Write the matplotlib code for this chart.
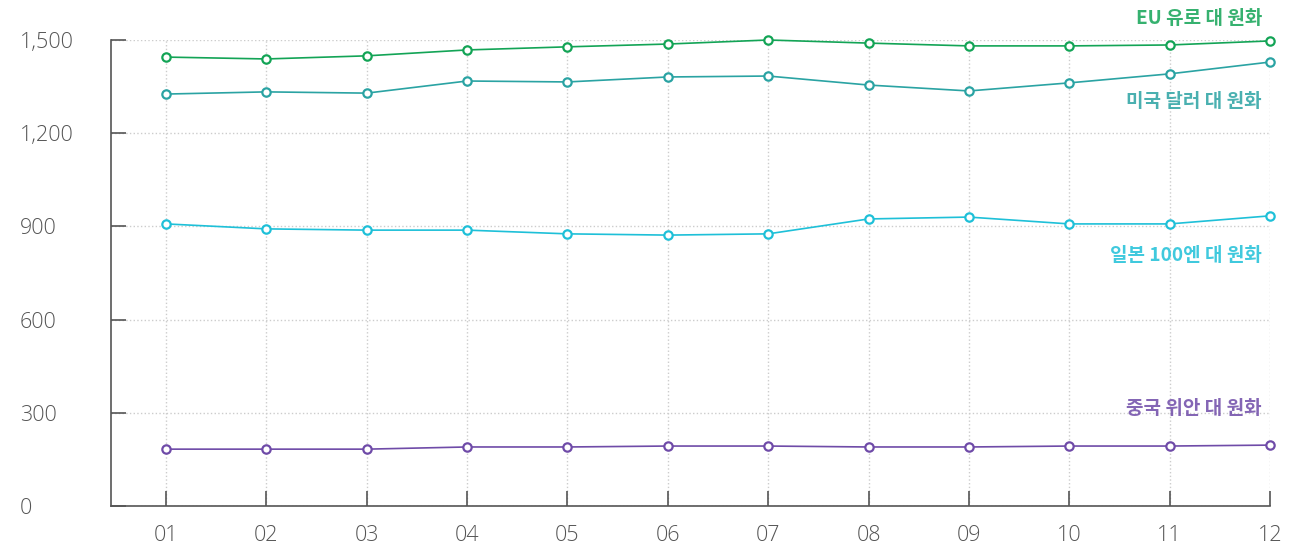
import matplotlib.pyplot as plt

plt.rcParams['font.family'] = ['Noto Sans CJK KR', 'DejaVu Sans']

months = ['01', '02', '03', '04', '05', '06', '07', '08', '09', '10', '11', '12']
eur = [1445, 1439, 1449, 1468, 1478, 1487, 1500, 1490, 1481, 1481, 1484, 1497]
usd = [1326, 1333, 1329, 1368, 1365, 1381, 1384, 1355, 1336, 1362, 1391, 1429]
jpy = [908, 892, 888, 888, 876, 872, 876, 924, 930, 908, 908, 934]
cny = [183, 183, 183, 190, 190, 193, 193, 190, 190, 193, 193, 196]

series = [
    ('EU 유로 대 원화', eur, '#13a456', 18),
    ('미국 달러 대 원화', usd, '#2aa3a3', 101),
    ('일본 100엔 대 원화', jpy, '#1ec0d8', 255),
    ('중국 위안 대 원화', cny, '#6f4ba8', 409),
]

W, H = 1289, 549
fig = plt.figure(figsize=(W / 100, H / 100), dpi=100)
ax = fig.add_axes([111 / W, (H - 506) / H, (1270 - 111) / W, (506 - 40) / H])

x = list(range(1, 13))
for label, vals, color, ly in series:
    ax.plot(x, vals, color=color, lw=1.2, marker='o', ms=6, mfc='white',
            mec=color, mew=1.6, clip_on=False, zorder=3)
    fig.text(1262 / W, 1 - ly / H, label, color=color, fontsize=13.7,
             fontweight='bold', alpha=0.85, ha='right', va='center')

ax.set_xlim(1 - 55 / 100.4, 12)
ax.set_ylim(0, 1500)
ax.set_xticks(x)
ax.set_xticklabels(months)
ax.set_yticks([0, 300, 600, 900, 1200, 1500])
ax.set_yticklabels(['0', '300', '600', '900', '1,200', '1,500'])

for s in ['top', 'right']:
    ax.spines[s].set_visible(False)
for s in ['left', 'bottom']:
    ax.spines[s].set_color('#555555')
    ax.spines[s].set_linewidth(1.2)

ax.tick_params(axis='both', direction='in', length=11, width=1.2,
               color='#555555', labelcolor='#555555', labelsize=15.5)
ax.tick_params(axis='x', pad=14)
ax.tick_params(axis='y', pad=0)
for t in ax.get_xticklabels() + ax.get_yticklabels():
    t.set_family(['Open Sans', 'DejaVu Sans'])
    t.set_fontweight('light')
for t in ax.get_yticklabels():
    t.set_horizontalalignment('left')
    t.set_x(-0.0785)

ax.grid(True, color='#cccccc', linestyle=':', linewidth=1)
ax.set_axisbelow(True)

fig.savefig('out.png', dpi=100)
